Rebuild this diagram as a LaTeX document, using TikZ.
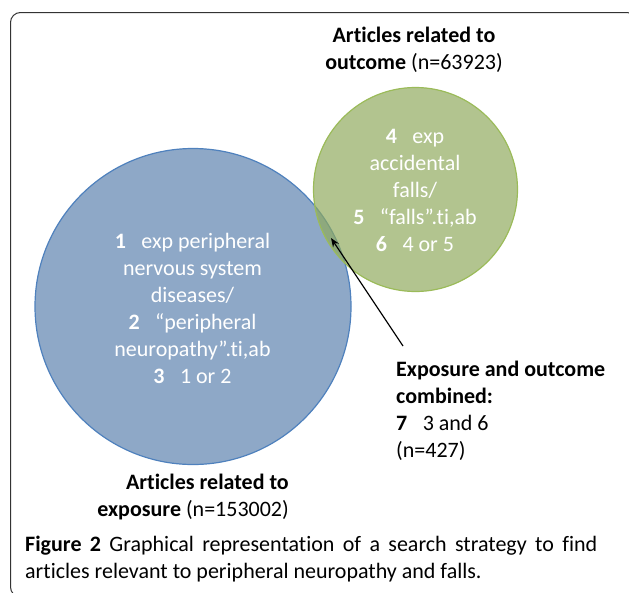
\documentclass[tikz,border=0pt]{standalone}
\usepackage{fontspec}
\setmainfont{Carlito}[Ligatures=NoCommon]
\usetikzlibrary{arrows.meta}
\definecolor{expblue}{RGB}{142,168,199}
\definecolor{expline}{RGB}{79,129,189}
\definecolor{outgreen}{RGB}{143,170,93}
\definecolor{greenline}{RGB}{155,187,89}
\newcommand{\qnum}[1]{\textbf{#1}\hspace{0.7em}}
\begin{document}
\begin{tikzpicture}[x=1pt,y=-1pt,font=\fontsize{22}{27}\selectfont,inner sep=0pt]
            \useasboundingbox (0,0) rectangle (629,592);
            \draw[rounded corners=10pt, line width=1pt, black!80] (10.5,12.5) rectangle (637,597);
            \draw[expline, fill=expblue, line width=1.2pt] (193,306.5) circle (158pt);
            \fill[outgreen, fill opacity=0.69] (415.5,189.5) circle (102pt);
            \draw[greenline, line width=1.2pt] (415.5,189.5) circle (102pt);
            \node[white, align=center] (G) at (415,190) {\qnum{4}exp\\accidental\\falls/\\\qnum{5}“falls”.ti,ab\\\qnum{6}4 or 5};
            \node[white, align=center] (B) at (192.5,308) {\qnum{1}exp peripheral\\nervous system\\diseases/\\\qnum{2}“peripheral\\neuropathy”.ti,ab\\\qnum{3}1 or 2};
            \node[align=center] (T) at (414,50) {\textbf{Articles related to}\\\textbf{outcome} (n=63923)};
            \node[align=right, anchor=east] (E) at (289,497) {\textbf{Articles related to}\\\textbf{exposure} (n=153002)};
            \node[align=left, anchor=west] (C) at (396,411) {\textbf{Exposure and outcome}\\\textbf{combined:}\\\qnum{7}3 and 6\\(n=427)};
            % caption, first line justified
            \node[align=left, anchor=west] (F) at (25,559) {\makebox[572pt][s]{\textbf{Figure 2} Graphical representation of a search strategy to find}\\articles relevant to peripheral neuropathy and falls.};
            \coordinate (tip) at (331,238);
            \coordinate (tail) at (403,346);
            \draw[-{Stealth[length=9pt,width=7pt]}, line width=1.2pt] (tail) -- (tip);
        \end{tikzpicture}
\end{document}
